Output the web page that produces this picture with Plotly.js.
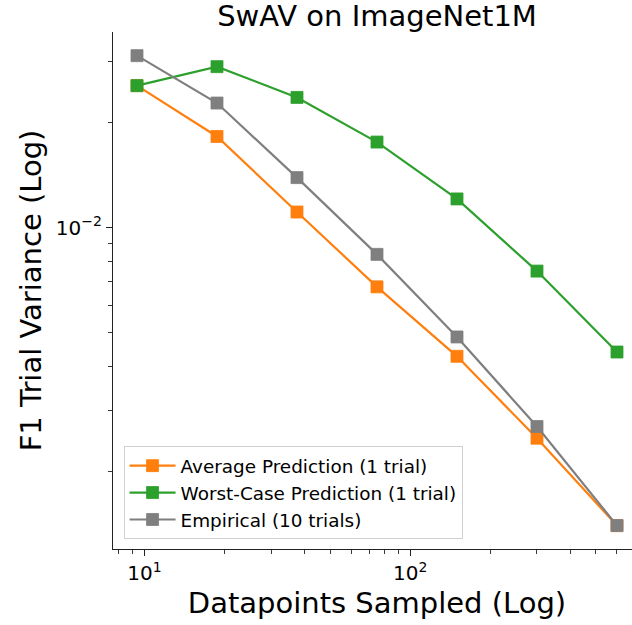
<!DOCTYPE html>
<html>
<head>
<meta charset="utf-8">
<script src="https://cdn.plot.ly/plotly-3.0.1.min.js"></script>
<style>
html, body { margin: 0; padding: 0; overflow: hidden; background: #fff; }
#chart { width: 641px; height: 625px; }
</style>
</head>
<body>
<div id="chart"></div>
<script>
// Data
const datapoints = [9.375, 18.75, 37.5, 75, 150, 300, 600];
const averagePrediction = [0.02554, 0.01826, 0.01109, 0.006768, 0.004279, 0.002492, 0.00140];
const worstCasePrediction = [0.02554, 0.02895, 0.02363, 0.01760, 0.01209, 0.00751, 0.004402];
const empirical = [0.03113, 0.02277, 0.01392, 0.008387, 0.004862, 0.002693, 0.00140];
const seriesNames = ["Average Prediction (1 trial)", "Worst-Case Prediction (1 trial)", "Empirical (10 trials)"];
const xTickVals = [10, 100];
const xTickText = ["10<sup>1</sup>", "10<sup>2</sup>"];
const xMinorVals = [8, 9, 20, 30, 40, 50, 60, 70, 80, 90, 200, 300, 400, 500, 600, 700];
const yTickVals = [0.01];
const yTickText = ["10<sup>\u22122</sup>"];
const yMinorVals = [0.002, 0.003, 0.004, 0.005, 0.006, 0.007, 0.008, 0.009, 0.02, 0.03];

const FONT = "DejaVu Sans, Verdana, sans-serif";
const colors = ["#ff7f0e", "#2ca02c", "#7f7f7f"];
const ys = [averagePrediction, worstCasePrediction, empirical];

const traces = ys.map((y, i) => ({
  x: datapoints,
  y: y,
  name: seriesNames[i],
  type: "scatter",
  mode: "lines+markers",
  line: { color: colors[i], width: 2.2 },
  marker: { symbol: "square", size: 12, color: colors[i], line: { width: 0.8, color: colors[i] } }
}));

const axisCommon = {
  type: "log",
  showgrid: false,
  zeroline: false,
  showline: true,
  linecolor: "#222",
  linewidth: 1.1,
  ticks: "outside",
  ticklen: 6,
  tickwidth: 1.1,
  tickcolor: "#222",
  tickmode: "array",
  tickfont: { family: FONT, size: 20, color: "#000" },
  mirror: false
};

const layout = {
  width: 641,
  height: 625,
  margin: { l: 113, r: 0, t: 32, b: 76 },
  paper_bgcolor: "#fff",
  plot_bgcolor: "#fff",
  font: { family: FONT, color: "#000" },
  title: {
    text: "SwAV on ImageNet1M",
    font: { family: FONT, size: 29, color: "#000" },
    x: 0.5, xref: "paper", xanchor: "center",
    y: 1 - 15.8 / 625, yref: "container", yanchor: "middle"
  },
  xaxis: Object.assign({}, axisCommon, {
    range: [0.8817, 2.8685],
    tickvals: xTickVals,
    ticktext: xTickText,
    minor: { tickmode: "array", tickvals: xMinorVals, ticks: "outside", ticklen: 3.5, tickwidth: 0.9, tickcolor: "#222", showgrid: false },
    title: { text: "Datapoints Sampled (Log)", font: { family: FONT, size: 29, color: "#000" }, standoff: 8 }
  }),
  yaxis: Object.assign({}, axisCommon, {
    range: [-2.921, -1.439],
    tickvals: yTickVals,
    ticktext: yTickText,
    minor: { tickmode: "array", tickvals: yMinorVals, ticks: "outside", ticklen: 3.5, tickwidth: 0.9, tickcolor: "#222", showgrid: false },
    title: { text: "F1 Trial Variance (Log)", font: { family: FONT, size: 29, color: "#000" }, standoff: 5 }
  }),
  showlegend: true,
  legend: {
    x: 0.02, y: 0.019, xanchor: "left", yanchor: "bottom",
    bgcolor: "rgba(255,255,255,0.8)",
    bordercolor: "#d0d0d0",
    borderwidth: 1,
    itemwidth: 46,
    font: { family: FONT, size: 18.4, color: "#000" }
  }
};

Plotly.newPlot("chart", traces, layout, { displayModeBar: false, staticPlot: true });
</script>
</body>
</html>
